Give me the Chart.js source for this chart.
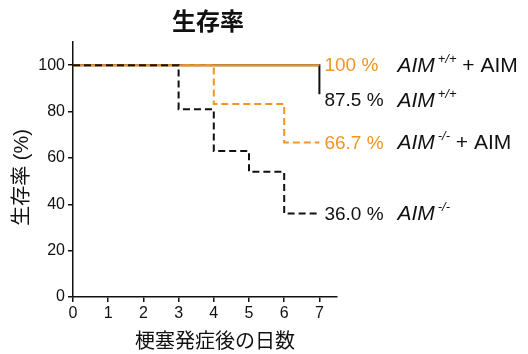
<!DOCTYPE html>
<html>
<head>
<meta charset="utf-8">
<script src="https://cdn.jsdelivr.net/npm/chart.js@4/dist/chart.umd.min.js"></script>
<style>
  html, body { margin: 0; padding: 0; background: #fff; }
  #c { display: block; }
</style>
</head>
<body>
<canvas id="c" width="528" height="354"></canvas>
<script>
// Kaplan–Meier survival curves (days after onset vs. survival %)
const wtAimDays = [0, 7];
const wtAimSurv = [100, 100];
const wtDays = [0, 7, 7];
const wtSurv = [100, 100, 87.5];
const koAimDays = [0, 4, 6, 7];
const koAimSurv = [100, 83.3, 66.7, 66.7];
const koDays = [0, 3, 4, 5, 6, 7];
const koSurv = [100, 81, 63, 54, 36, 36];

const xTicks = [0, 1, 2, 3, 4, 5, 6, 7];
const yTicks = [0, 20, 40, 60, 80, 100];

const endLabels = ['100 %', '87.5 %', '66.7 %', '36.0 %'];
const groupNames = [
  { base: 'AIM', sup: '+/+', tail: ' + AIM' },
  { base: 'AIM', sup: '+/+', tail: '' },
  { base: 'AIM', sup: '-/-', tail: ' + AIM' },
  { base: 'AIM', sup: '-/-', tail: '' }
];

const ORANGE = '#f39425';
const BLACK = '#111111';
const LATIN = "'Liberation Sans', Arial, sans-serif";
const CJK = "'Liberation Sans', 'Noto Sans CJK JP', sans-serif";

const toPts = (xs, ys) => xs.map((x, i) => ({ x: x, y: ys[i] }));

const seriesColors = [ORANGE, BLACK, ORANGE, BLACK];

const labelsPlugin = {
  id: 'endLabels',
  afterDatasetsDraw(chart) {
    const ctx = chart.ctx;
    const xs = chart.scales.x, ys = chart.scales.y;
    ctx.save();
    chart.data.datasets.forEach((ds, i) => {
      const last = ds.data[ds.data.length - 1];
      const px = xs.getPixelForValue(last.x);
      // nudge the 87.5 label down so it clears the 100 % line
      const nudge = i === 1 ? 7 : 1;
      const py = ys.getPixelForValue(last.y) + nudge;
      ctx.textBaseline = 'middle';
      ctx.textAlign = 'left';
      ctx.fillStyle = seriesColors[i];
      ctx.font = '19px ' + LATIN;
      ctx.fillText(endLabels[i], px + 5, py);

      const g = groupNames[i];
      let gx = px + 78;
      ctx.fillStyle = BLACK;
      ctx.font = 'italic 21px ' + LATIN;
      ctx.fillText(g.base, gx, py);
      gx += ctx.measureText(g.base).width + 3;
      ctx.font = 'italic 13px ' + LATIN;
      ctx.fillText(g.sup, gx, py - 7);
      gx += ctx.measureText(g.sup).width;
      if (g.tail) {
        ctx.font = '21px ' + LATIN;
        ctx.fillText(g.tail, gx, py);
      }
    });
    ctx.restore();
  },
  afterDraw(chart) {
    const ctx = chart.ctx;
    const a = chart.chartArea;
    const cx = (a.left + a.right) / 2;
    ctx.save();
    ctx.fillStyle = BLACK;
    ctx.textAlign = 'center';
    ctx.textBaseline = 'middle';
    // main title
    ctx.font = 'bold 24px ' + CJK;
    ctx.fillText('生存率', cx + 3, 23);
    // x axis title
    ctx.font = '20px ' + CJK;
    ctx.fillText('梗塞発症後の日数', cx + 10, 342);
    // y axis title
    ctx.translate(22, (a.top + a.bottom) / 2 + 8);
    ctx.rotate(-Math.PI / 2);
    ctx.fillText('生存率 (%)', 0, 0);
    ctx.restore();
  }
};

const common = { pointRadius: 0, pointHoverRadius: 0, fill: false, stepped: 'before', borderWidth: 2, borderCapStyle: 'butt', tension: 0 };

new Chart(document.getElementById('c'), {
  type: 'line',
  data: {
    datasets: [
      Object.assign({ label: 'AIM+/+ + AIM', data: toPts(wtAimDays, wtAimSurv), borderColor: ORANGE, order: 3 }, common),
      Object.assign({ label: 'AIM+/+', data: toPts(wtDays, wtSurv), borderColor: BLACK, order: 4 }, common),
      Object.assign({ label: 'AIM-/- + AIM', data: toPts(koAimDays, koAimSurv), borderColor: ORANGE, borderDash: [7, 4], order: 2 }, common),
      Object.assign({ label: 'AIM-/-', data: toPts(koDays, koSurv), borderColor: BLACK, borderDash: [7, 4], order: 1 }, common)
    ]
  },
  options: {
    responsive: false,
    animation: false,
    events: [],
    layout: { padding: { top: 42, right: 191, left: 0, bottom: 0 } },
    plugins: { legend: { display: false }, tooltip: { enabled: false }, title: { display: false } },
    scales: {
      x: {
        type: 'linear',
        min: 0,
        max: 7.5,
        afterBuildTicks: s => { s.ticks = xTicks.map(v => ({ value: v })); },
        afterFit: s => { s.height = 57; },
        grid: { drawOnChartArea: false, drawTicks: true, tickLength: 5, color: BLACK, lineWidth: 1.5 },
        border: { color: BLACK, width: 1.5 },
        ticks: { color: BLACK, font: { family: LATIN, size: 16 }, padding: 2, maxRotation: 0 }
      },
      y: {
        type: 'linear',
        min: 0,
        max: 110,
        afterBuildTicks: s => { s.ticks = yTicks.map(v => ({ value: v })); },
        afterFit: s => { s.width = 73; },
        grid: { drawOnChartArea: false, drawTicks: true, tickLength: 5, color: BLACK, lineWidth: 1.5 },
        border: { color: BLACK, width: 1.5 },
        ticks: { color: BLACK, font: { family: LATIN, size: 16 }, padding: 3 }
      }
    }
  },
  plugins: [labelsPlugin]
});
</script>
</body>
</html>
